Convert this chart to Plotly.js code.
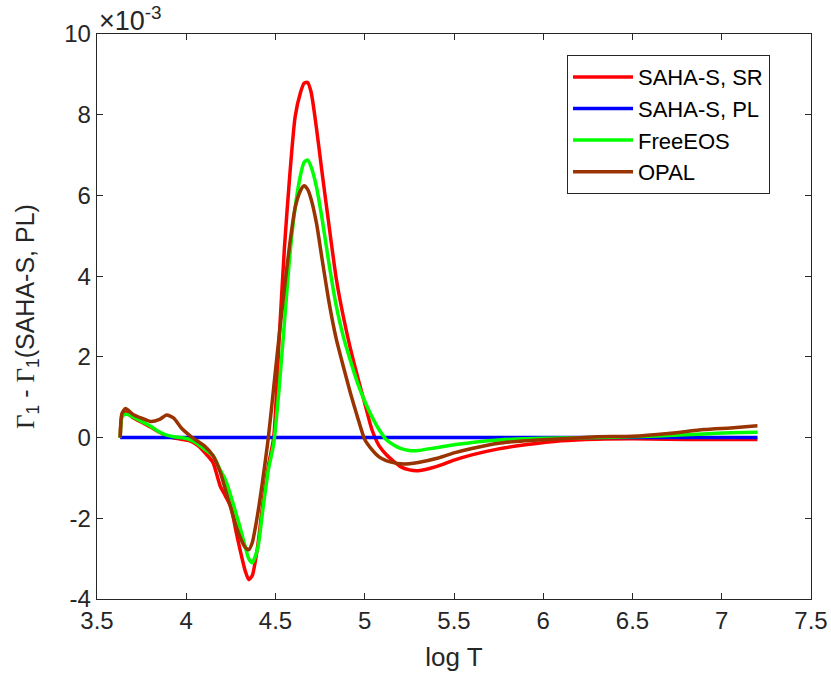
<!DOCTYPE html>
<html>
<head>
<meta charset="utf-8">
<script src="https://cdn.plot.ly/plotly-3.0.1.min.js"></script>
<style>html,body{margin:0;padding:0;background:#fff;}#chart{width:831px;height:684px;}</style>
</head>
<body>
<div id="chart"></div>
<script>
// log T grid
var logT = [3.63, 3.64, 3.66, 3.70, 3.75, 3.80, 3.85, 3.89, 3.93, 3.97, 4.02, 4.06, 4.10, 4.15, 4.19, 4.22, 4.25, 4.28, 4.30, 4.33, 4.35, 4.37, 4.40, 4.43, 4.46, 4.49, 4.52, 4.55, 4.58, 4.61, 4.64, 4.66, 4.68, 4.70, 4.73, 4.76, 4.80, 4.84, 4.88, 4.92, 4.96, 5.00, 5.04, 5.08, 5.12, 5.16, 5.20, 5.25, 5.30, 5.40, 5.50, 5.60, 5.75, 5.90, 6.10, 6.30, 6.50, 6.70, 6.90, 7.05, 7.20];

// values in units of 1e-3
var sahaSR = [0, 0.55, 0.62, 0.50, 0.38, 0.26, 0.13, 0.04, -0.01, -0.04, -0.08, -0.18, -0.35, -0.62, -1.20, -1.45, -1.72, -2.35, -2.75, -3.30, -3.52, -3.42, -2.70, -1.60, -0.70, 0.0, 2.4, 4.7, 6.5, 7.95, 8.55, 8.78, 8.8, 8.55, 7.65, 6.6, 5.25, 3.95, 3.0, 2.2, 1.5, 0.85, 0.2, -0.20, -0.42, -0.58, -0.72, -0.80, -0.82, -0.72, -0.56, -0.43, -0.28, -0.18, -0.08, -0.04, -0.03, -0.04, -0.05, -0.05, -0.05];

var sahaPL = logT.map(function(){ return 0; });

var freeEOS = [0, 0.50, 0.58, 0.52, 0.40, 0.28, 0.14, 0.06, 0.02, 0.0, -0.05, -0.14, -0.28, -0.45, -0.80, -1.05, -1.45, -1.90, -2.20, -2.70, -3.00, -3.10, -2.75, -1.75, -0.80, -0.15, 1.2, 2.85, 4.5, 5.7, 6.5, 6.82, 6.88, 6.7, 6.2, 5.45, 4.3, 3.27, 2.5, 1.9, 1.35, 0.9, 0.52, 0.2, -0.05, -0.18, -0.27, -0.32, -0.32, -0.25, -0.18, -0.12, -0.06, -0.03, -0.01, 0.0, 0.02, 0.05, 0.09, 0.12, 0.13];

var opal = [0, 0.60, 0.72, 0.58, 0.48, 0.40, 0.45, 0.56, 0.48, 0.25, 0.05, -0.08, -0.20, -0.45, -0.85, -1.30, -1.75, -2.20, -2.45, -2.72, -2.78, -2.60, -1.90, -1.00, 0.0, 1.25, 2.5, 3.7, 4.8, 5.7, 6.12, 6.24, 6.15, 5.9, 5.3, 4.45, 3.35, 2.45, 1.76, 1.1, 0.5, -0.05, -0.30, -0.48, -0.57, -0.62, -0.65, -0.65, -0.62, -0.52, -0.38, -0.27, -0.14, -0.08, -0.03, 0.02, 0.03, 0.10, 0.20, 0.24, 0.29];

var names = ['SAHA-S, SR', 'SAHA-S, PL', 'FreeEOS', 'OPAL'];
var colors = ['#ff0000', '#0000ff', '#00ff00', '#993300'];
var series = [sahaSR, sahaPL, freeEOS, opal];

var xTicks = [3.5, 4, 4.5, 5, 5.5, 6, 6.5, 7, 7.5];
var yTicks = [-4, -2, 0, 2, 4, 6, 8, 10];

var traces = series.map(function(s, i){
  return {x: logT, y: s, type: 'scatter', mode: 'lines', name: names[i],
          line: {color: colors[i], width: 3.5, shape: 'spline', smoothing: 0.6}};
});

var FONT = 'Liberation Sans, Arial, sans-serif';
var axisCommon = {showgrid: false, zeroline: false, showline: true, mirror: 'ticks',
  linecolor: '#262626', linewidth: 1.3, ticks: 'inside', ticklen: 6, tickcolor: '#262626',
  tickfont: {family: FONT, size: 24, color: '#262626'}};

var layout = {
  width: 831, height: 684,
  margin: {l: 97, r: 20, t: 34, b: 85},
  paper_bgcolor: '#fff', plot_bgcolor: '#fff',
  showlegend: true,
  legend: {x: 0.658, y: 0.963, xanchor: 'left', yanchor: 'top', bgcolor: '#fff',
    bordercolor: '#262626', borderwidth: 1.2, tracegroupgap: 0, itemwidth: 60,
    font: {family: FONT, size: 22, color: '#000'}},
  xaxis: Object.assign({}, axisCommon, {range: [3.5, 7.5], tickvals: xTicks, ticktext: xTicks.map(String),
    title: {text: 'log T', font: {family: FONT, size: 26, color: '#262626'}, standoff: 14}}),
  yaxis: Object.assign({}, axisCommon, {range: [-4, 10], tickvals: yTicks, ticktext: yTicks.map(String),
    title: {text: '<span style="font-family:Liberation Serif">Γ</span><sub>1</sub> - <span style="font-family:Liberation Serif">Γ</span><sub>1</sub>(SAHA-S, PL)',
      font: {family: FONT, size: 25, color: '#262626'}, standoff: 22}}),
  annotations: [{xref: 'paper', yref: 'paper', x: 0, y: 1, xanchor: 'left', yanchor: 'bottom',
    text: '×10<sup>-3</sup>', showarrow: false, yshift: -4,
    font: {family: FONT, size: 27, color: '#262626'}}]
};

Plotly.newPlot('chart', traces, layout, {displayModeBar: false, staticPlot: true});
</script>
</body>
</html>
